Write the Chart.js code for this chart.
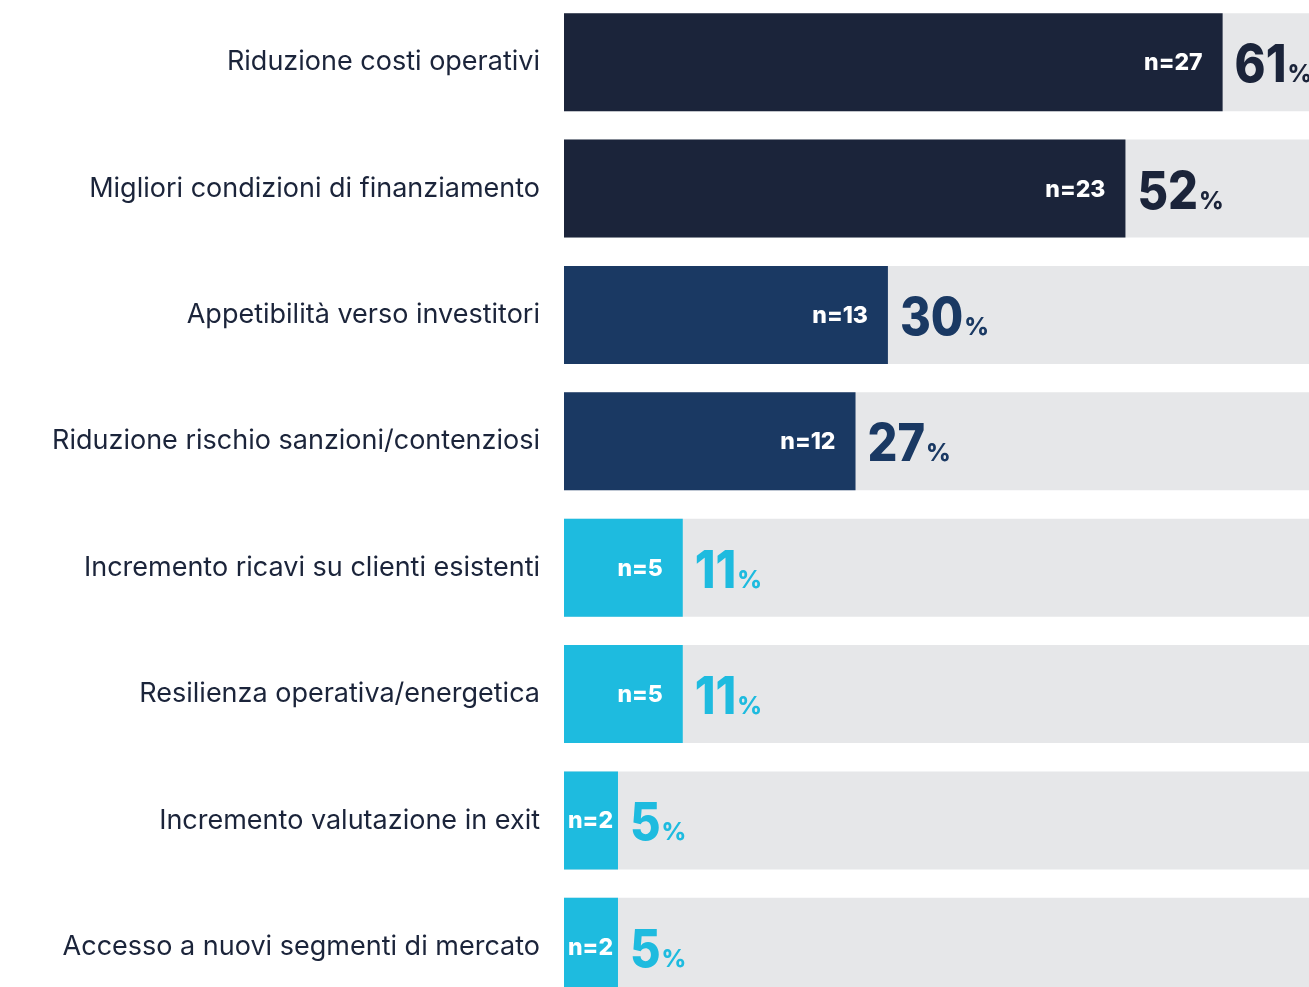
<!DOCTYPE html>
<html>
<head>
<meta charset="utf-8">
<script src="https://cdn.jsdelivr.net/npm/chart.js@4.4.1/dist/chart.umd.min.js"></script>
<style>
    html, body { margin: 0; padding: 0; background: #ffffff; overflow: hidden; }
    #wrap { position: absolute; left: 0; top: -1px; width: 1309px; height: 1011px; }
</style>
</head>
<body>
<div id="wrap"><canvas id="chart"></canvas></div>
<script>
// Chart data
const categories = [
    'Riduzione costi operativi',
    'Migliori condizioni di finanziamento',
    'Appetibilità verso investitori',
    'Riduzione rischio sanzioni/contenziosi',
    'Incremento ricavi su clienti esistenti',
    'Resilienza operativa/energetica',
    'Incremento valutazione in exit',
    'Accesso a nuovi segmenti di mercato'
];
const percentages = [61, 52, 30, 27, 11, 11, 5, 5];
const counts = [27, 23, 13, 12, 5, 5, 2, 2];
const axisMax = 69;

const darkNavy = '#1b243a';
const navy = '#1a3963';
const cyan = '#1ebbdf';
const track = '#e6e7e9';

const barColors = percentages.map(function(p) {
    if (p >= 50) return darkNavy;
    if (p >= 20) return navy;
    return cyan;
});

const FONT = 'Inter, "Noto Sans", sans-serif';

// Draw "n=.." inside bars and big percentage after bars
const labelPlugin = {
    id: 'barLabels',
    afterDatasetsDraw(chart) {
        const ctx = chart.ctx;
        const meta = chart.getDatasetMeta(0);
        ctx.save();
        meta.data.forEach(function(bar, i) {
            const start = bar.base;
            const end = bar.x;
            const y = bar.y;

            // count label inside the bar
            ctx.font = '800 23px ' + FONT;
            ctx.fillStyle = '#ffffff';
            ctx.textAlign = 'right';
            ctx.textBaseline = 'alphabetic';
            const nText = 'n=' + counts[i];
            const w = ctx.measureText(nText).width;
            let right = end - 20;
            if (right - w < start + 4) right = start + 4 + w;
            ctx.fillText(nText, right, y + 8);

            // percentage after the bar (slightly stretched vertically)
            ctx.textAlign = 'left';
            ctx.fillStyle = barColors[i];
            const num = String(percentages[i]);
            const x0 = end + 12;
            const base = y + 20;
            ctx.save();
            ctx.translate(x0, base);
            ctx.scale(1, 1.1);
            ctx.font = '800 47px ' + FONT;
            ctx.fillText(num, 0, 0);
            const nw = ctx.measureText(num).width;
            ctx.restore();
            ctx.font = '800 24px ' + FONT;
            ctx.fillText('%', x0 + nw + 1, base);
        });
        ctx.restore();
    }
};

const ctx = document.getElementById('chart').getContext('2d');
new Chart(ctx, {
    type: 'bar',
    data: {
        labels: categories,
        datasets: [
            {
                data: percentages,
                backgroundColor: barColors,
                grouped: false,
                barPercentage: 0.776,
                categoryPercentage: 1
            },
            {
                data: categories.map(function() { return axisMax; }),
                backgroundColor: track,
                grouped: false,
                barPercentage: 0.776,
                categoryPercentage: 1
            }
        ]
    },
    options: {
        indexAxis: 'y',
        responsive: true,
        maintainAspectRatio: false,
        animation: false,
        layout: { padding: 0 },
        plugins: {
            legend: { display: false },
            tooltip: { enabled: false }
        },
        scales: {
            x: {
                display: false,
                min: 0,
                max: axisMax
            },
            y: {
                grid: { display: false, drawTicks: false },
                border: { display: false },
                afterFit: function(scale) {
                    scale.width = 564;
                    scale.paddingTop = 0;
                    scale.paddingBottom = 0;
                },
                ticks: {
                    padding: 24,
                    color: darkNavy,
                    font: { family: FONT, size: 27 }
                }
            }
        }
    },
    plugins: [labelPlugin]
});
</script>
</body>
</html>
